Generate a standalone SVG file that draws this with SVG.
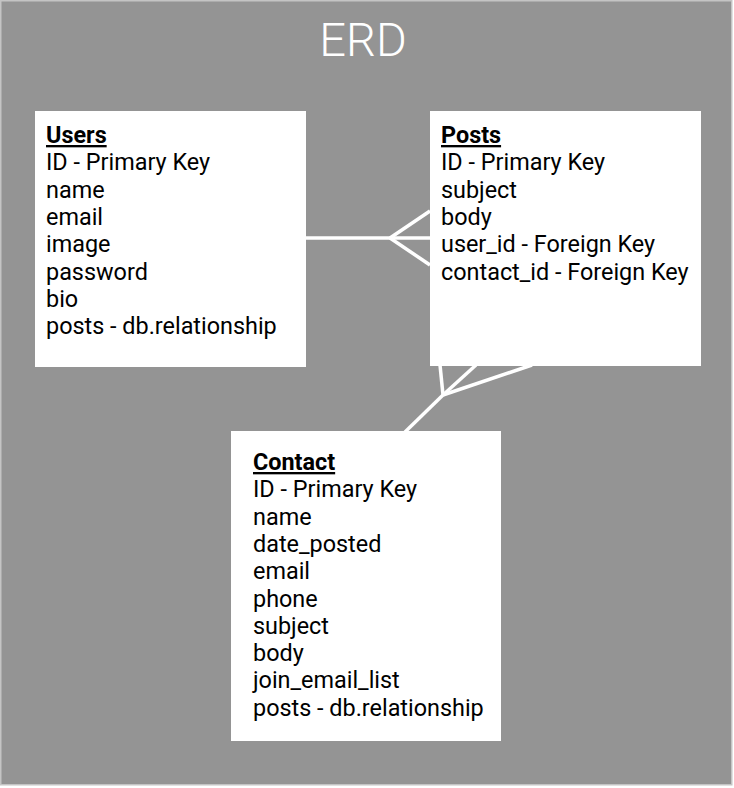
<svg xmlns="http://www.w3.org/2000/svg" width="734" height="788" viewBox="0 0 734 788">
<style>
.bg{fill:#949494;stroke:#c4c4c4;stroke-width:1.5}
.box{fill:#ffffff}
.t{font-family:Roboto,"Liberation Sans",sans-serif;font-size:23.4px;fill:#000000}
.h{font-weight:bold;text-decoration:underline}
.title{font-family:Roboto,"Liberation Sans",sans-serif;font-size:47px;font-weight:300;fill:#ffffff}
.c{stroke:#ffffff;stroke-width:3.5;fill:none;stroke-linecap:butt}
</style>
<rect x="0" y="0" width="734" height="788" fill="#ffffff"/>
<rect class="bg" x="0.75" y="0.75" width="731" height="784"/>
<text class="title" x="363" y="56" text-anchor="middle">ERD</text>
<g id="connectors">
<path class="c" d="M306 238 H430"/>
<path class="c" d="M390 238 L430 211"/>
<path class="c" d="M390 238 L430 265"/>
<path class="c" d="M443 395 L440 365"/>
<path class="c" d="M443 395 L476 365"/>
<path class="c" d="M443 395 L532 365"/>
<path class="c" d="M443 395 L405 432"/>
</g>
<g id="users">
<rect class="box" x="35" y="111" width="271" height="256"/>
<text class="t">
<tspan class="h" x="46" y="143">Users</tspan>
<tspan x="46" y="170.3">ID - Primary Key</tspan>
<tspan x="46" y="197.6">name</tspan>
<tspan x="46" y="224.9">email</tspan>
<tspan x="46" y="252.2">image</tspan>
<tspan x="46" y="279.5">password</tspan>
<tspan x="46" y="306.8">bio</tspan>
<tspan x="46" y="334.1">posts - db.relationship</tspan>
</text>
</g>
<g id="posts">
<rect class="box" x="430" y="111" width="271" height="255"/>
<text class="t">
<tspan class="h" x="441" y="143">Posts</tspan>
<tspan x="441" y="170.3">ID - Primary Key</tspan>
<tspan x="441" y="197.6">subject</tspan>
<tspan x="441" y="224.9">body</tspan>
<tspan x="441" y="252.2">user_id - Foreign Key</tspan>
<tspan x="441" y="279.5">contact_id - Foreign Key</tspan>
</text>
</g>
<g id="contact">
<rect class="box" x="231" y="431" width="270" height="310"/>
<text class="t">
<tspan class="h" x="253" y="470">Contact</tspan>
<tspan x="253" y="497.3">ID - Primary Key</tspan>
<tspan x="253" y="524.6">name</tspan>
<tspan x="253" y="551.9">date_posted</tspan>
<tspan x="253" y="579.2">email</tspan>
<tspan x="253" y="606.5">phone</tspan>
<tspan x="253" y="633.8">subject</tspan>
<tspan x="253" y="661.1">body</tspan>
<tspan x="253" y="688.4">join_email_list</tspan>
<tspan x="253" y="715.7">posts - db.relationship</tspan>
</text>
</g>
</svg>
